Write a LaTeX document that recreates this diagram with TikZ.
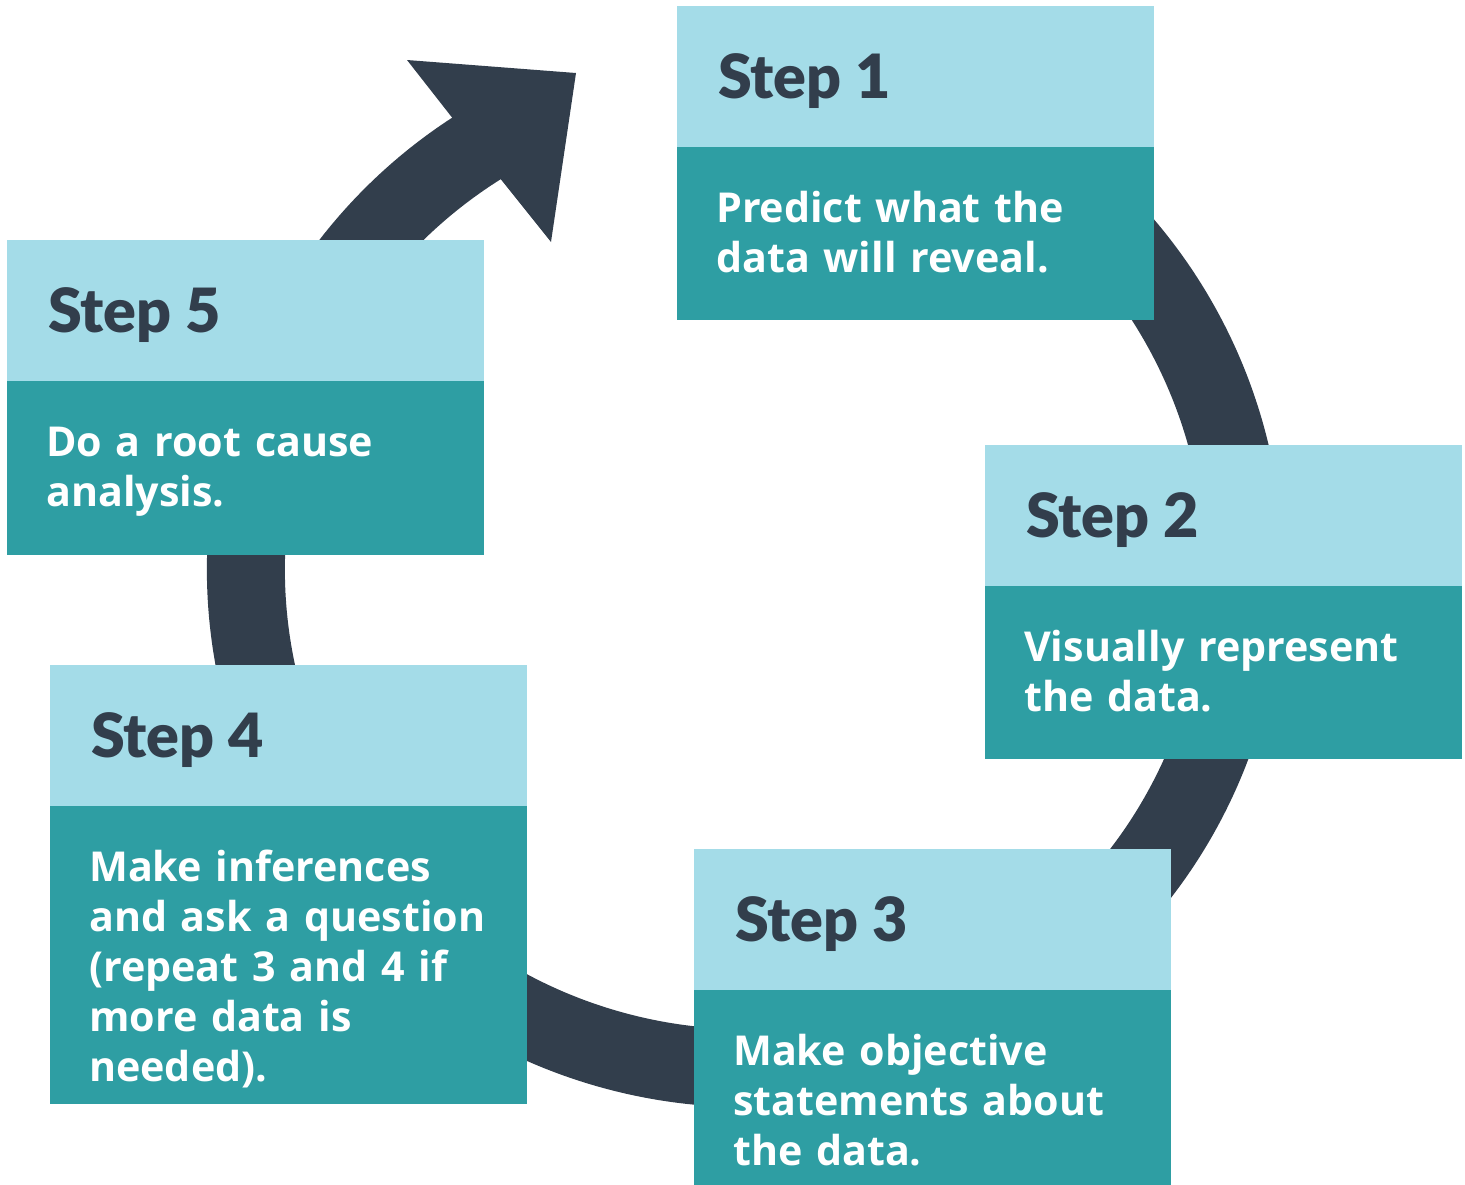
\documentclass[tikz,border=0pt]{standalone}
\usepackage{fontspec}
\setmainfont{Open Sans}
\newfontfamily\headfont{Lato}[BoldFont={Lato Black}]
\usetikzlibrary{positioning}

\definecolor{headblue}{HTML}{A4DCE8}
\definecolor{bodyteal}{HTML}{2E9EA3}
\definecolor{slate}{HTML}{323E4C}

\tikzset{
  head/.style={fill=headblue, minimum width=477pt, minimum height=141pt, inner sep=0pt, anchor=north west},
  body/.style={fill=bodyteal, minimum width=477pt, inner sep=0pt},
  steplabel/.style={anchor=base west, inner sep=0pt, text=slate, font=\headfont\bfseries\fontsize{61}{61}\selectfont},
  steptext/.style={anchor=base west, inner sep=0pt, text=white, text width=430pt, align=left, font=\bfseries\fontsize{41.2}{50}\selectfont},
  ring/.style={draw=slate, line width=78pt}
}

\begin{document}
\begin{tikzpicture}[x=1pt, y=-1pt]
  \useasboundingbox (0,0) rectangle (1465,1184);

  \coordinate (c) at (745,569);
  \draw[ring] ([shift={(-75:499)}]c) arc[start angle=-75, end angle=239, radius=499];
  \fill[slate] (454,120) -- (407,60) -- (576,73) -- (551,242) -- (503,182) -- cycle;

  \node[head] (h1) at (677,6) {};
  \node[body, minimum height=173pt, below=-1pt of h1] (b1) {};
  \node[steplabel] (s1) at ([shift={(41,92.5)}]h1.north west) {Step 1};
  \node[steptext] (t1) at ([shift={(39,76)}]b1.north west) {Predict what the\\data will reveal.};

  \node[head] (h2) at (985,445) {};
  \node[body, minimum height=173pt, below=-1pt of h2] (b2) {};
  \node[steplabel] (s2) at ([shift={(41,92.5)}]h2.north west) {Step 2};
  \node[steptext] (t2) at ([shift={(39,76)}]b2.north west) {Visually represent\\the data.};

  \node[head] (h3) at (694,849) {};
  \node[body, minimum height=195pt, below=-1pt of h3] (b3) {};
  \node[steplabel] (s3) at ([shift={(41,92.5)}]h3.north west) {Step 3};
  \node[steptext] (t3) at ([shift={(39,76)}]b3.north west) {Make objective\\statements about\\the data.};

  \node[head] (h4) at (50,665) {};
  \node[body, minimum height=298pt, below=-1pt of h4] (b4) {};
  \node[steplabel] (s4) at ([shift={(41,92.5)}]h4.north west) {Step 4};
  \node[steptext] (t4) at ([shift={(39,76)}]b4.north west) {Make inferences\\and ask a question\\(repeat 3 and 4 if\\more data is\\needed).};

  \node[head] (h5) at (7,240) {};
  \node[body, minimum height=174pt, below=-1pt of h5] (b5) {};
  \node[steplabel] (s5) at ([shift={(41,92.5)}]h5.north west) {Step 5};
  \node[steptext] (t5) at ([shift={(39,76)}]b5.north west) {Do a root cause\\analysis.};
\end{tikzpicture}
\end{document}
